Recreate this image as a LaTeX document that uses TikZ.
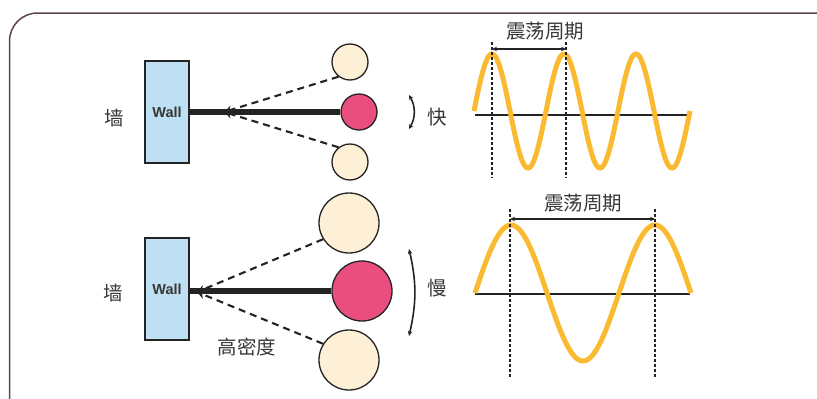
\documentclass[tikz,border=0pt]{standalone}
\usepackage{fontspec}
\setmainfont{Liberation Sans}
\newfontfamily\cjk{Noto Sans CJK SC}
\usetikzlibrary{arrows.meta}
\definecolor{wallblue}{RGB}{190,224,242}
\definecolor{redball}{RGB}{234,78,126}
\definecolor{cream}{RGB}{253,240,214}
\definecolor{waveor}{RGB}{250,186,50}
\definecolor{framec}{RGB}{92,70,70}
\definecolor{txtc}{RGB}{55,55,55}
\definecolor{linec}{RGB}{35,35,35}
\tikzset{
  wallbox/.style={draw=linec,line width=2pt,fill=wallblue,minimum width=44pt,minimum height=102pt,inner sep=0pt,font=\bfseries\fontsize{14.5}{14.5}\selectfont,text=txtc},
  ball/.style={circle,draw=linec,line width=1.3pt,inner sep=0pt},
  cn/.style={font=\cjk\fontsize{19.5}{19.5}\selectfont,text=txtc,inner sep=0pt},
  rod/.style={line width=6pt,draw=linec},
  dashline/.style={draw=linec,line width=2.1pt,dash pattern=on 7pt off 5pt,-{Stealth[length=8pt,width=8pt]}},
  swing/.style={draw=linec,line width=1.6pt,{Stealth[length=5pt,width=4.5pt]}-{Stealth[length=5pt,width=4.5pt]}},
  wave/.style={draw=waveor,line width=5pt},
  axisline/.style={draw=linec,line width=1.8pt},
  dotline/.style={draw=linec,line width=2.2pt,dash pattern=on 2.5pt off 2.5pt},
  dimline/.style={draw=linec,line width=1.1pt,{Stealth[length=5pt,width=4.5pt]}-{Stealth[length=5pt,width=4.5pt]}},
}
\begin{document}
\begin{tikzpicture}[x=1pt,y=-1pt]
\useasboundingbox (0,0) rectangle (817,399);
\begin{scope}
\clip (0,0) rectangle (817,399);
\draw[framec,line width=1.5pt,rounded corners=28pt] (9.5,13) rectangle (845,425);
\end{scope}

% ---------- top (fast) ----------
\node[wallbox] (w1) at (167,112) {Wall};
\node[cn] (q1) at (114,118) {墙};
\node[ball,fill=redball,minimum size=36pt] (r1) at (359,112) {};
\node[ball,fill=cream,minimum size=36pt] (t1) at (350,62) {};
\node[ball,fill=cream,minimum size=36pt] (b1) at (350,162) {};
\draw[rod] (w1.east |- r1) -- (r1.west);
\coordinate (a1) at (224,112);
\draw[dashline] (t1.232) -- (a1);
\draw[dashline] (b1.128) -- (a1);
\coordinate (s1a) at (409,95);
\coordinate (s1b) at (409,129);
\draw[swing] (s1a) to[bend left=30] (s1b);
\node[cn] (f1) at (437,117) {快};

% top wave
\coordinate (x1a) at (475,115);
\coordinate (x1b) at (690,115);
\draw[axisline] (x1a) -- (x1b);
\draw[wave] plot[domain=474:690,samples=220] (\x,{111-57*sin((\x-474)*5)});
\coordinate (d1a) at (492,42);
\coordinate (d1b) at (492,178);
\coordinate (d1c) at (566,42);
\coordinate (d1d) at (566,178);
\draw[dotline] (d1a) -- (d1b);
\draw[dotline] (d1c) -- (d1d);
\coordinate (m1a) at (492,49);
\coordinate (m1b) at (566,49);
\draw[dimline] (m1a) -- (m1b);
\node[cn] (p1) at (545,31) {震荡周期};

% ---------- bottom (slow) ----------
\node[wallbox] (w2) at (167,289) {Wall};
\node[cn] (q2) at (113,293) {墙};
\node[ball,fill=redball,minimum size=60pt] (r2) at (362,291) {};
\node[ball,fill=cream,minimum size=60pt] (t2) at (349,223) {};
\node[ball,fill=cream,minimum size=60pt] (b2) at (349,360) {};
\draw[rod] (w2.east |- r2) -- (r2.west);
\coordinate (a2) at (197,292);
\draw[dashline] (t2.212) -- (a2);
\draw[dashline] (b2.148) -- (a2);
\node[cn] (h2) at (247,347) {高密度};
\coordinate (s2a) at (409,249);
\coordinate (s2b) at (409,336);
\draw[swing] (s2a) to[bend left=13] (s2b);
\node[cn] (f2) at (437,288) {慢};

% bottom wave
\coordinate (x2a) at (475,294);
\coordinate (x2b) at (690,294);
\draw[axisline] (x2a) -- (x2b);
\draw[wave] plot[domain=475:691,samples=220] (\x,{293-68*sin((\x-475)*2.5)});
\coordinate (d2a) at (510,209);
\coordinate (d2b) at (510,377);
\coordinate (d2c) at (655,209);
\coordinate (d2d) at (655,377);
\draw[dotline] (d2a) -- (d2b);
\draw[dotline] (d2c) -- (d2d);
\coordinate (m2a) at (510,219);
\coordinate (m2b) at (655,219);
\draw[dimline] (m2a) -- (m2b);
\node[cn] (p2) at (583,203) {震荡周期};
\end{tikzpicture}
\end{document}
